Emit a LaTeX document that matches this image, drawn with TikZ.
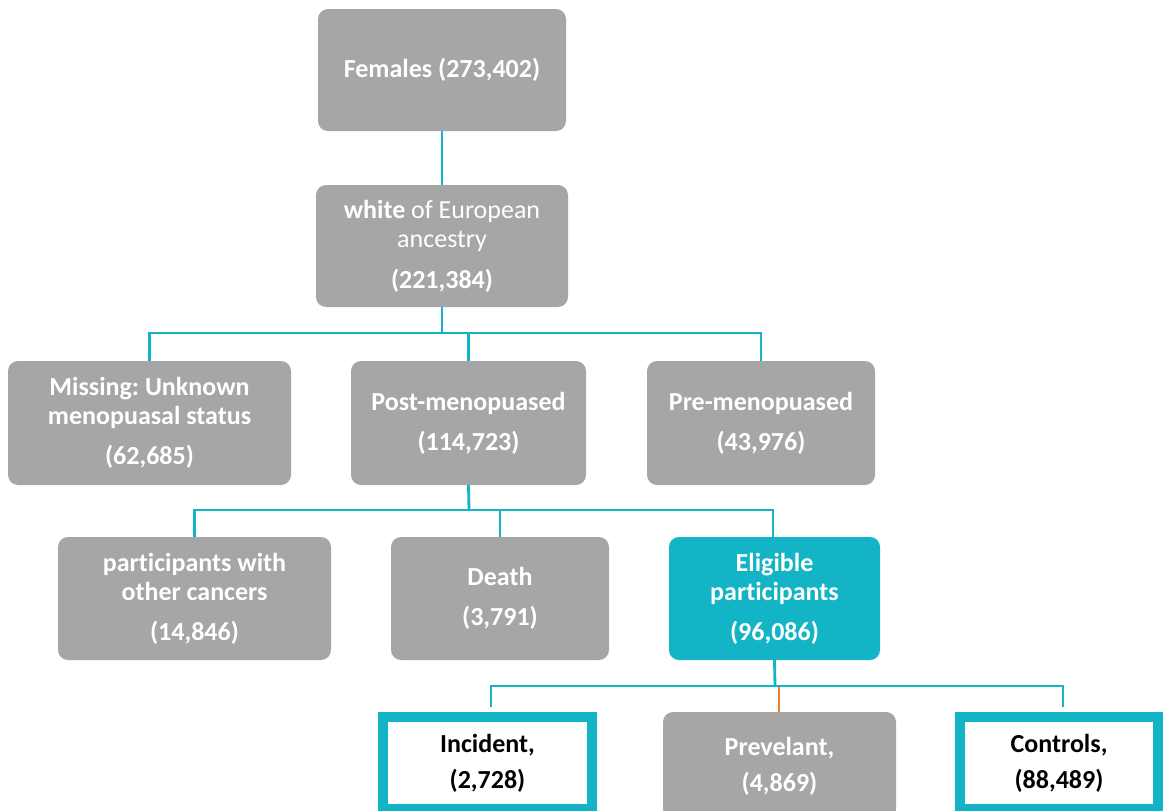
\documentclass[tikz,border=0pt]{standalone}
\usepackage{fontspec}
\setmainfont{Carlito}[Ligatures=NoCommon]
\frenchspacing
\definecolor{boxgray}{RGB}{166,166,166}
\definecolor{tealc}{RGB}{18,180,198}
\definecolor{orangec}{RGB}{237,125,49}
\begin{document}
\begin{tikzpicture}[x=1pt,y=-1pt,
  gbox/.style={fill=boxgray, rounded corners=10pt, text=white, align=center, inner sep=0pt,
    font=\bfseries\fontsize{26}{29}\selectfont},
  tlbox/.style={fill=tealc, rounded corners=10pt, text=white, align=center, inner sep=0pt,
    font=\bfseries\fontsize{26}{29}\selectfont},
  obox/.style={draw=tealc, line width=10pt, fill=white, text=black, align=center, inner sep=0pt,
    font=\bfseries\fontsize{26}{29}\selectfont},
  conn/.style={draw=tealc, line width=2.8pt},
  oconn/.style={draw=orangec, line width=2.8pt}]
\clip (0,0) rectangle (1163,811);
\fill[white] (0,0) rectangle (1163,811);

\node[gbox, minimum width=248, minimum height=122] (fem) at (442,70) {Females (273,402)};
\node[gbox, minimum width=252, minimum height=122, font=\fontsize{26}{29}\selectfont] (wht) at (442,246)
  {\textbf{white} of European\\ancestry\\[12pt]\textbf{(221,384)}};

\node[gbox, minimum width=283, minimum height=124] (miss) at (149.5,423) {Missing: Unknown\\menopuasal status\\[11pt](62,685)};
\node[gbox, minimum width=235, minimum height=124] (post) at (468.5,423) {Post-menopuased\\[11pt](114,723)};
\node[gbox, minimum width=228, minimum height=124] (pre) at (761,423) {Pre-menopuased\\[11pt](43,976)};

\node[gbox, minimum width=273, minimum height=123] (part) at (194.5,598.5) {participants with\\other cancers\\[11pt](14,846)};
\node[gbox, minimum width=218, minimum height=123] (death) at (500,598.5) {Death\\[11pt](3,791)};
\node[tlbox, minimum width=211, minimum height=123] (elig) at (774.5,598.5) {Eligible\\participants\\[11pt](96,086)};

\node[obox, minimum width=209, minimum height=92] (inc) at (487.5,763) {Incident,\\[7pt](2,728)};
\node[gbox, minimum width=233, minimum height=108] (prev) at (779.5,766) {Prevelant,\\[7pt](4,869)};
\node[obox, minimum width=198, minimum height=92] (ctrl) at (1059,763) {Controls,\\[7pt](88,489)};

\coordinate (j1) at (442,333);
\coordinate (j2) at (469,510);
\coordinate (j3) at (775,686);

\draw[conn] (fem.south) -- (wht.north);
\draw[conn] (wht.south) -- (j1);
\draw[conn] (miss.north) -- (miss.north |- j1) -- (pre.north |- j1) -- (pre.north);
\draw[conn] (post.north) -- (post.north |- j1);

\draw[conn] (post.south) -- (j2);
\draw[conn] (part.north) -- (part.north |- j2) -- ([xshift=-1.5pt]elig.north |- j2) -- ([xshift=-1.5pt]elig.north);
\draw[conn] (death.north) -- (death.north |- j2);

\draw[conn] (elig.south) -- (j3);
\draw[oconn] ([xshift=-0.5pt]prev.north) -- ([xshift=-0.5pt]prev.north |- j3);
\draw[conn] ([xshift=3.5pt,yshift=5pt]inc.north) -- ([xshift=3.5pt]inc.north |- j3) -- ([xshift=4pt]ctrl.north |- j3) -- ([xshift=4pt,yshift=5pt]ctrl.north);
\end{tikzpicture}
\end{document}
